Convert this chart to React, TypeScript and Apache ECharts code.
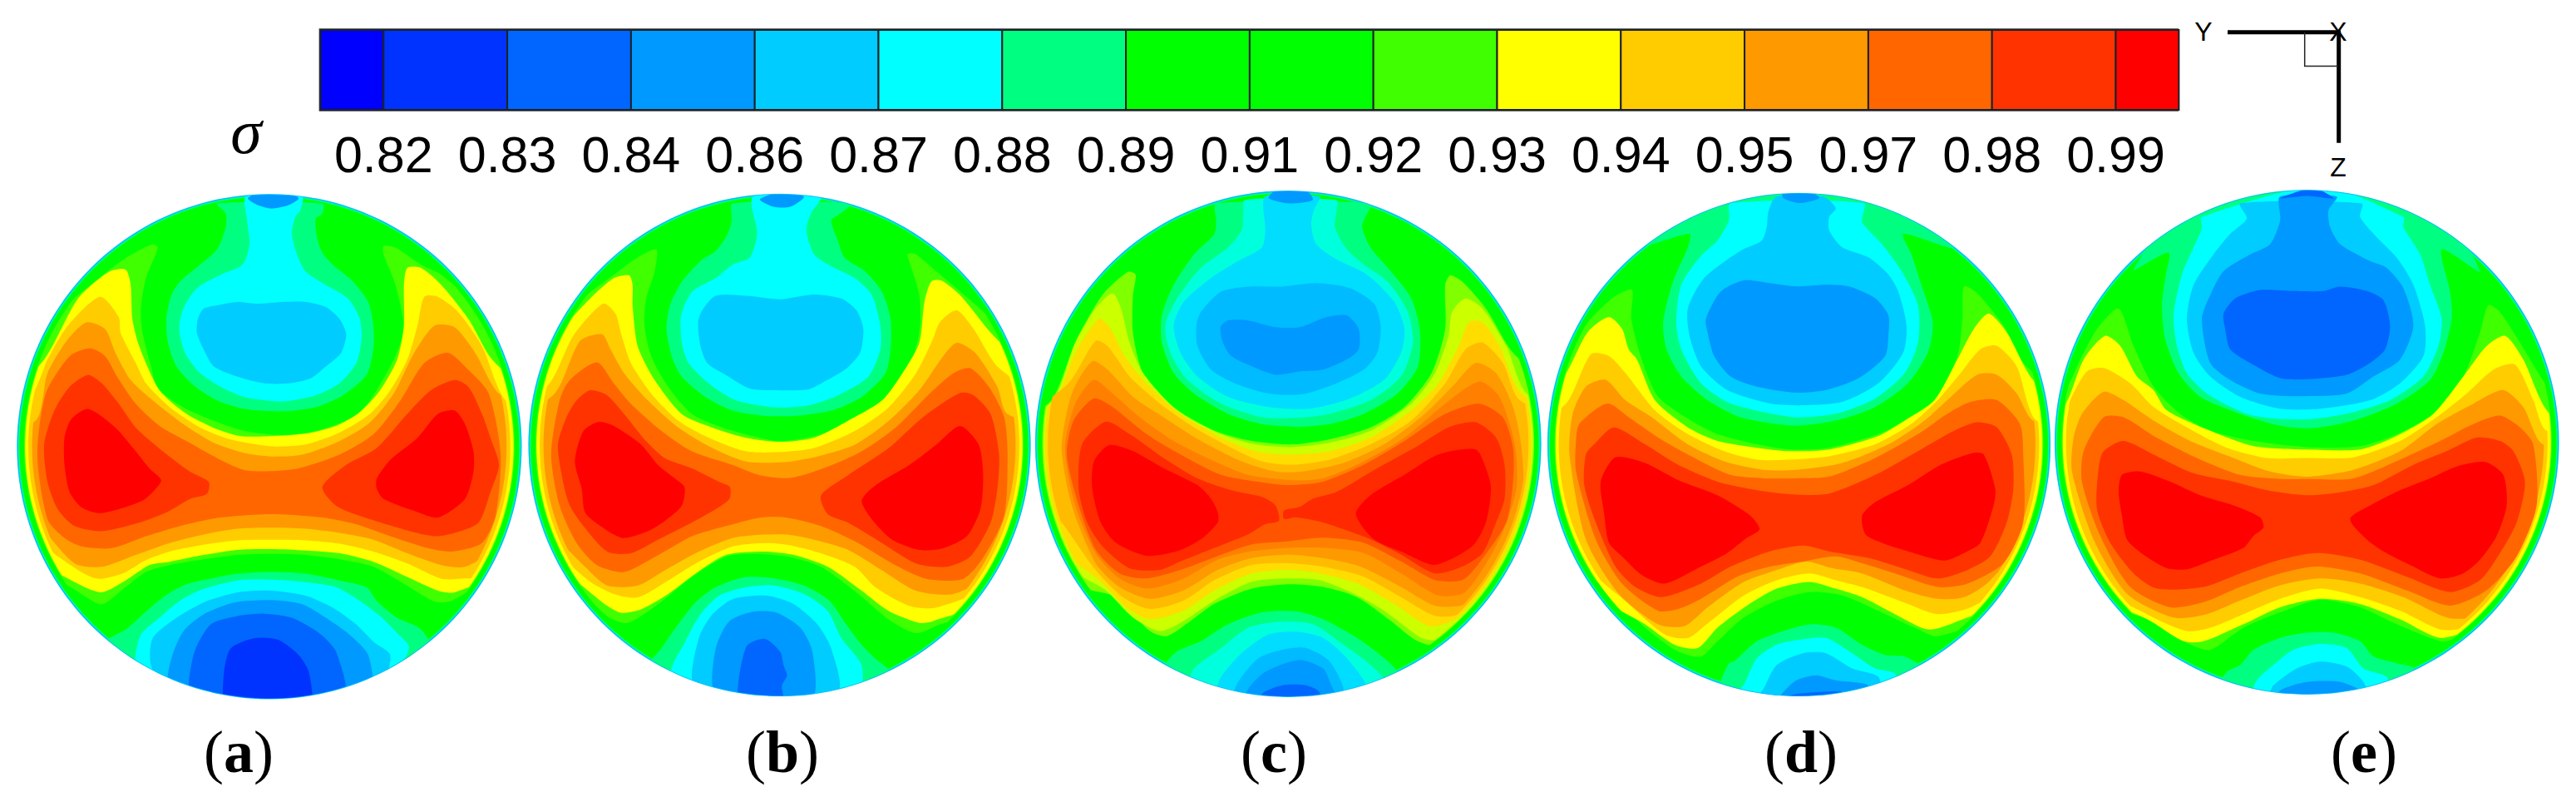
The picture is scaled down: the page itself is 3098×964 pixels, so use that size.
import React, { useEffect, useRef } from "react";
import * as echarts from "echarts";

// ---------- colour bar ----------
const tickLabels = ["0.82","0.83","0.84","0.86","0.87","0.88","0.89","0.91","0.92","0.93","0.94","0.95","0.97","0.98","0.99"];
const levelEdges = [-0.51,0,1,2,3,4,5,6,7,8,9,10,11,12,13,14,14.51];
const levelNames = ["b00","b33","b66","b99","bcc","cyan","teal","green","green","lime","yellow","gold","orange","dkorange","redorange","red"];
const panelLabels = ["a","b","c","d","e"];

const bandColors: Record<string,string> = {
  b00:"#0000ff",b33:"#0033ff",b66:"#0066ff",b99:"#0099ff",bcc:"#00ccff",cyan:"#00ffff",teal:"#00ff80",green:"#00ff00",
  lime:"#40ff00",yellow:"#ffff00",gold:"#ffcc00",orange:"#ff9900",dkorange:"#ff6600",redorange:"#ff3300",red:"#ff0000",
  aqua:"#00ffdd",ltcyan:"#00ddff",midblue:"#00bbff",lime2:"#80ff00",lemon:"#ccff00",amber:"#ffdd00",amber2:"#ffbb00",orange2:"#ff8000",dk2:"#ff5500",ro2:"#ff2a00",
};
const wallFraction: Record<string,number> = {lime:.972,lime2:.972,yellow:.968,lemon:.968,amber:.96,gold:.955,amber2:.95,orange:.94,orange2:.935};

// ---------- panel (a): contour outlines in the panel's reading frame ----------
const aTopTeal=[640,60,665,90,665,130,640,195,590,240,530,290,505,330,490,400,495,470,520,540,570,595,640,640,720,665,830,672,930,660,1010,625,1080,565,1100,490,1100,420,1085,350,1040,290,980,240,950,205,935,165,930,105,950,90,950,60];
const aTopCyan=[725,40,728,110,735,180,715,240,650,270,580,310,540,370,528,430,545,500,590,560,650,600,720,630,830,643,930,625,1000,590,1050,530,1065,460,1060,400,1025,340,960,300,900,260,875,210,860,150,870,100,885,80,890,40];
const aTopBlob=[600,370,650,358,700,350,760,355,830,350,900,350,960,365,1000,400,1020,445,1005,500,960,540,915,575,850,590,780,590,700,570,630,540,600,490,580,440,583,400];
const aTopCap=[730,45,760,65,800,75,850,65,880,45,850,30,760,30];
const aBotTeal=[300,1360,370,1315,410,1280,480,1220,540,1185,620,1165,700,1150,800,1145,900,1150,1000,1170,1080,1190,1110,1230,1170,1280,1235,1310,1270,1360,1300,1600,300,1600];
const aBotCyan=[400,1420,415,1330,470,1280,530,1230,600,1195,700,1170,800,1168,900,1175,990,1190,1060,1230,1120,1275,1170,1325,1205,1365,1180,1420,1000,1600,500,1600];
const aBotBcc=[445,1420,450,1340,520,1280,600,1235,700,1205,800,1200,900,1215,980,1250,1050,1300,1100,1350,1150,1390,1120,1480,800,1600,500,1500];
const aBotB99=[500,1480,505,1400,540,1320,600,1270,690,1235,800,1228,890,1240,960,1280,1030,1330,1085,1390,1090,1500,800,1600];
const aBotB66=[565,1520,570,1390,620,1300,700,1275,780,1268,860,1280,940,1325,990,1380,1015,1520,800,1600];
const aBotB33=[665,1540,660,1440,680,1370,750,1340,820,1345,880,1390,910,1440,915,1540,800,1600];
const aLime=[330,250,380,215,450,180,465,190,430,280,415,370,420,440,445,540,465,605,540,660,630,700,720,730,830,742,930,730,1040,690,1090,640,1160,520,1190,430,1165,300,1130,210,1130,185,1165,190,1240,240,1300,270,1420,380,1700,776,1420,1170,1330,1230,1280,1232,1190,1180,1100,1130,1000,1108,900,1095,800,1092,700,1095,600,1108,500,1125,430,1145,370,1190,300,1240,225,1200,150,1150,-100,776,160,380,230,330];
const aYellow=[320,262,370,255,385,300,390,400,410,480,470,610,550,680,640,725,710,745,800,745,900,738,990,715,1060,675,1120,610,1170,520,1190,420,1190,300,1200,250,1240,250,1300,300,1380,400,1450,520,1700,776,1450,1150,1340,1205,1290,1200,1200,1160,1100,1115,1000,1090,900,1082,800,1078,700,1080,600,1095,500,1115,440,1125,370,1170,300,1205,240,1185,120,1110,-100,776,130,520,230,340];
const aGold=[295,335,350,395,355,440,400,530,430,590,500,660,590,720,680,755,800,775,900,770,1000,735,1090,680,1150,610,1200,520,1230,420,1250,335,1290,335,1350,380,1420,480,1490,640,1700,776,1450,1150,1360,1165,1300,1165,1200,1120,1100,1085,1000,1062,900,1052,800,1050,700,1052,600,1065,500,1085,430,1110,360,1150,285,1165,215,1130,100,1040,-100,776,95,620,140,520,200,420];
const aOrange=[255,410,310,430,340,500,385,580,450,640,540,710,630,765,720,795,800,805,890,800,1000,760,1090,705,1160,620,1220,500,1280,420,1340,425,1400,500,1470,620,1700,776,1450,1080,1370,1130,1300,1125,1200,1090,1100,1050,1000,1030,900,1018,800,1015,700,1018,600,1035,500,1060,400,1095,300,1130,220,1120,110,1000,-100,776,105,700,140,560,200,460];
const aDk=[265,487,310,510,345,570,400,650,470,715,550,760,640,810,720,845,800,848,880,840,1000,800,1100,740,1180,640,1250,530,1320,500,1380,550,1440,620,1475,800,1460,980,1420,1060,1330,1085,1260,1075,1150,1040,1050,1005,950,985,800,975,650,985,550,1005,430,1040,330,1075,240,1070,190,1045,140,990,110,800,135,620,205,510];
const aRoL=[260,565,300,590,350,650,400,720,480,790,560,850,615,880,610,915,560,930,490,970,410,1000,300,1025,220,1010,170,960,140,880,130,770,160,670,205,600];
const aRoR=[950,895,1020,830,1110,780,1200,680,1270,610,1340,580,1380,600,1420,680,1445,750,1470,830,1445,910,1410,1000,1340,1030,1280,1040,1190,1020,1060,980,990,950];
const aRedL=[260,665,340,720,400,790,440,840,475,875,450,910,420,935,350,960,290,972,240,955,205,910,190,830,190,750,210,695];
const aRedR=[1110,870,1150,815,1230,750,1290,680,1340,670,1370,710,1395,790,1395,850,1370,930,1290,985,1220,965,1130,930,1110,900];
const panelA:[string,number[]][]=[["teal",aTopTeal],["cyan",aTopCyan],["bcc",aTopBlob],["b99",aTopCap],["teal",aBotTeal],["cyan",aBotCyan],["bcc",aBotBcc],["b99",aBotB99],["b66",aBotB66],["b33",aBotB33],["lime",aLime],["yellow",aYellow],["gold",aGold],["orange",aOrange],["dkorange",aDk],["redorange",aRoL],["redorange",aRoR],["red",aRedL],["red",aRedR]];

// ---------- panel (b) ----------
const bTopTeal=[640,60,637,110,625,150,590,200,550,225,490,290,455,360,445,430,460,510,490,570,560,630,640,670,730,685,830,685,930,670,1020,630,1090,560,1105,490,1105,400,1080,320,1030,260,970,220,950,170,930,110,950,95,990,60];
const bTopCyan=[700,40,712,150,690,220,640,240,590,280,520,320,488,390,490,470,510,530,570,590,650,640,760,660,860,655,950,625,1040,570,1075,490,1075,420,1050,330,1000,280,930,245,880,210,857,140,870,90,900,40];
const bTopBlob=[590,332,680,332,780,342,880,328,960,340,1005,375,1025,430,1015,500,970,550,900,590,860,608,760,610,690,605,620,565,565,530,545,480,538,410,550,375];
const bTopCap=[720,48,760,70,810,70,850,40,780,28];
const bBotTeal=[390,1430,430,1370,475,1305,530,1235,590,1190,680,1160,770,1165,850,1185,925,1230,975,1300,1020,1360,1060,1400,1100,1440,800,1600];
const bBotCyan=[460,1450,500,1350,545,1270,600,1215,680,1190,760,1185,850,1210,920,1260,960,1340,1020,1420,1010,1500,700,1600];
const bBotBcc=[525,1480,540,1340,580,1270,640,1225,740,1215,820,1240,890,1300,930,1370,950,1500,700,1600];
const bBotB99=[585,1500,590,1370,630,1290,700,1262,770,1265,840,1310,875,1380,875,1520,700,1600];
const bBotB66=[655,1520,680,1365,735,1342,780,1380,790,1420,800,1450,785,1480,790,1540,700,1600];
const bLime=[290,270,350,225,415,195,410,260,385,340,380,420,400,510,450,600,520,680,610,720,700,745,780,760,880,745,980,710,1090,640,1160,540,1190,440,1190,330,1160,230,1155,210,1175,207,1240,260,1300,310,1420,420,1700,771,1400,1250,1250,1300,1180,1325,1100,1285,1010,1210,900,1130,800,1100,700,1092,620,1100,520,1160,420,1240,330,1295,270,1275,150,1150,-100,771,130,420,210,330];
const bYellow=[290,280,335,272,345,300,345,360,360,480,410,580,490,680,580,720,680,750,780,762,880,750,980,700,1080,640,1140,560,1190,470,1205,350,1225,290,1255,287,1310,330,1400,440,1700,771,1400,1220,1230,1290,1190,1295,1100,1260,1020,1200,920,1130,820,1095,730,1085,620,1095,530,1150,450,1210,370,1255,310,1265,250,1230,140,1130,-100,771,130,440,220,340];
const bGold=[258,355,295,385,310,440,340,530,400,620,480,700,570,750,680,790,780,792,880,780,1000,730,1100,660,1180,560,1230,460,1250,410,1300,375,1350,430,1420,540,1700,771,1400,1180,1240,1250,1160,1245,1060,1190,1000,1130,900,1090,800,1065,730,1060,640,1070,540,1115,450,1170,360,1220,290,1210,215,1170,100,1060,-100,771,100,590,170,450];
const bOrange=[255,445,280,490,320,560,390,640,480,720,580,780,680,820,790,822,890,805,1000,770,1100,700,1190,610,1260,510,1300,470,1355,500,1420,600,1450,680,1700,771,1400,1150,1290,1210,1180,1200,1080,1140,980,1080,880,1050,800,1035,730,1035,640,1045,540,1085,440,1140,360,1185,270,1185,205,1130,100,1020,-100,771,115,620,190,465];
const bDk=[240,528,290,590,340,650,430,730,520,790,640,830,720,860,810,868,920,835,1020,790,1120,720,1220,620,1290,560,1340,545,1395,600,1440,690,1450,800,1440,980,1380,1100,1320,1165,1210,1165,1110,1120,1010,1060,900,1010,800,985,720,985,620,1010,520,1040,430,1090,320,1145,240,1125,180,1060,130,950,105,800,130,640,160,580];
const bRoL=[220,610,270,625,320,680,385,760,440,810,520,840,600,880,632,895,630,930,590,960,500,1010,420,1050,340,1090,270,1085,200,1010,160,950,140,880,125,770,150,690,180,640];
const bRoR=[900,920,980,860,1100,780,1200,690,1310,618,1350,625,1400,680,1425,800,1420,900,1400,1000,1340,1100,1270,1130,1180,1120,1080,1060,980,1000,920,975];
const bRedL=[245,703,290,715,370,770,420,830,470,870,498,895,490,950,440,995,390,1025,315,1045,250,1010,205,970,195,900,175,820,200,730];
const bRedR=[1020,935,1060,890,1160,830,1240,770,1310,715,1365,770,1378,860,1370,960,1330,1040,1260,1075,1190,1080,1110,1050,1050,990];
const panelB:[string,number[]][]=[["teal",bTopTeal],["cyan",bTopCyan],["bcc",bTopBlob],["b99",bTopCap],["teal",bBotTeal],["cyan",bBotCyan],["bcc",bBotBcc],["b99",bBotB99],["b66",bBotB66],["lime",bLime],["yellow",bYellow],["gold",bGold],["orange",bOrange],["dkorange",bDk],["redorange",bRoL],["redorange",bRoR],["red",bRedL],["red",bRedR]];

// ---------- panel (c) ----------
const cTopTeal=[545,60,545,110,540,150,480,210,420,300,385,390,385,470,420,560,480,620,580,680,680,710,780,718,880,710,980,680,1080,620,1140,540,1145,430,1120,340,1060,260,1000,190,975,130,985,100,1000,60];
const cTopAqua=[630,50,625,90,620,140,580,190,500,250,430,340,395,420,410,500,460,580,560,650,680,690,780,692,880,680,1000,640,1090,570,1125,470,1110,380,1050,290,980,240,930,195,895,130,900,80,900,50];
const cTopCyan=[690,40,690,140,680,190,610,230,530,280,450,350,420,420,440,500,490,570,580,630,700,660,820,665,940,635,1040,580,1090,500,1100,430,1070,350,990,270,900,225,840,180,825,120,835,75,850,40];
const cTopMid=[500,380,560,320,640,305,740,305,840,295,940,310,1010,355,1030,420,1020,500,980,550,900,590,800,622,700,620,600,590,530,550,490,480,487,420];
const cTopB99=[580,405,640,405,720,425,790,425,870,395,930,390,965,430,965,490,930,520,860,550,790,555,720,565,650,540,590,510,565,470,558,425];
const cTopCap=[700,45,760,60,830,50,810,22,720,22];
const cBotTeal=[400,1420,430,1380,500,1350,580,1300,680,1265,780,1262,860,1285,960,1340,1040,1400,1080,1450,760,1600];
const cBotAqua=[470,1470,480,1430,560,1370,640,1310,740,1292,830,1300,920,1360,1000,1420,1040,1470,760,1600];
const cBotCyan=[550,1500,560,1455,620,1385,700,1330,780,1322,860,1340,930,1400,990,1500,760,1600];
const cBotMid=[600,1510,610,1470,670,1400,740,1375,810,1370,880,1410,920,1510,760,1600];
const cBotB99=[630,1530,640,1490,690,1440,790,1405,860,1430,880,1470,900,1530,760,1600];
const cBotB66=[680,1540,680,1505,740,1480,810,1480,850,1500,850,1540];
const cLime=[285,262,308,270,300,330,300,440,330,560,420,660,540,730,650,760,770,770,880,755,1000,720,1100,660,1180,560,1220,430,1220,300,1235,272,1270,290,1340,370,1420,500,1700,770,1400,1280,1180,1360,1130,1345,1060,1290,960,1220,860,1190,760,1182,650,1195,540,1240,470,1290,400,1335,350,1320,250,1220,130,1180,-100,770,60,640,130,470,210,330];
const cLemon=[240,325,265,370,290,470,330,560,430,670,560,740,660,770,770,778,880,765,1000,730,1120,650,1190,560,1230,450,1240,380,1280,340,1330,370,1400,480,1460,620,1700,770,1400,1250,1200,1345,1150,1340,1040,1260,950,1210,850,1170,750,1165,650,1175,540,1230,450,1290,380,1320,300,1280,220,1200,110,1130,-100,770,65,640,130,470,190,370];
const cAmber=[200,400,235,430,275,510,340,590,440,680,560,750,660,790,760,800,880,790,1000,750,1120,670,1200,590,1260,480,1290,410,1330,410,1380,480,1445,620,1700,770,1400,1200,1230,1295,1170,1305,1070,1240,960,1180,850,1150,760,1140,650,1150,540,1200,450,1260,350,1285,280,1250,200,1170,100,1090,-100,770,70,640,130,500];
const cAmber2=[190,465,225,480,290,570,380,650,480,720,580,775,680,820,770,830,880,815,1000,770,1120,700,1220,590,1280,490,1330,470,1390,530,1440,640,1700,770,1400,1150,1260,1270,1190,1275,1090,1220,980,1160,860,1130,760,1120,650,1125,540,1170,450,1230,350,1255,270,1220,190,1140,90,1000,-100,770,110,590];
const cOrange=[180,525,225,550,300,630,390,690,500,760,620,820,720,850,800,850,920,825,1040,770,1160,680,1250,590,1310,530,1370,560,1420,660,1445,780,1450,950,1400,1120,1280,1240,1190,1245,1090,1190,970,1130,860,1105,760,1095,650,1105,550,1140,450,1200,350,1225,260,1190,190,1120,120,950,90,780,120,620];
const cOrange2=[185,580,240,620,320,690,420,760,540,820,640,860,760,875,860,870,980,820,1100,750,1220,650,1320,585,1380,630,1425,770,1430,900,1380,1050,1280,1205,1200,1215,1090,1150,980,1090,860,1075,760,1075,650,1085,550,1110,440,1170,340,1195,260,1165,190,1090,130,950,100,780,130,650];
const cDk=[185,635,240,660,340,740,440,800,560,860,700,885,760,890,860,880,980,830,1100,760,1220,680,1320,650,1390,690,1420,780,1420,880,1400,1000,1320,1120,1270,1170,1190,1170,1090,1115,980,1060,860,1045,760,1055,650,1065,560,1095,440,1140,340,1165,260,1150,190,1080,140,950,105,800,125,700];
const cRoL=[220,703,290,740,390,810,490,870,590,905,680,925,720,950,730,995,690,1005,640,1035,540,1075,440,1115,380,1140,290,1135,210,1070,165,1000,140,900,150,770];
const cRoR=[745,965,790,955,830,930,900,910,1020,840,1130,780,1230,720,1310,705,1370,750,1395,830,1395,930,1370,1000,1330,1090,1270,1130,1190,1150,1090,1095,1000,1050,920,1020,860,1000,780,985,745,990];
const cRedL=[230,772,300,790,390,840,490,890,530,930,550,970,550,1000,500,1050,430,1085,340,1098,250,1060,205,1000,180,900,185,820];
const cRedR=[957,975,1000,920,1100,860,1200,800,1310,785,1340,840,1355,900,1340,1000,1300,1070,1190,1125,1100,1090,1010,1050];
const panelC:[string,number[]][]=[["teal",cTopTeal],["aqua",cTopAqua],["ltcyan",cTopCyan],["midblue",cTopMid],["b99",cTopB99],["b99",cTopCap],["teal",cBotTeal],["aqua",cBotAqua],["ltcyan",cBotCyan],["midblue",cBotMid],["b99",cBotB99],["b66",cBotB66],["lime2",cLime],["lemon",cLemon],["amber",cAmber],["amber2",cAmber2],["orange",cOrange],["orange2",cOrange2],["dk2",cDk],["ro2",cRoL],["ro2",cRoR],["red",cRedL],["red",cRedR]];

// ---------- panel (d) ----------
const dTopTeal=[290,185,435,150,430,190,385,290,355,410,365,490,410,570,490,640,590,690,750,715,880,700,1000,660,1100,590,1160,500,1175,410,1140,300,1110,210,1085,150,1240,190,1100,20,450,20];
const dTopCyan=[560,60,555,110,520,170,470,215,410,300,395,410,410,490,470,590,560,650,750,690,880,680,1000,635,1090,560,1130,470,1130,360,1080,260,1020,180,960,115,965,60];
const dTopBcc=[700,40,675,85,670,130,655,170,590,200,480,280,430,370,435,450,470,540,550,610,680,650,770,655,900,645,1010,590,1085,500,1095,420,1070,320,1040,270,980,220,900,190,860,140,860,100,880,75,840,40];
const dTopB99=[600,287,680,295,760,305,850,300,920,305,1000,340,1040,390,1040,450,1030,510,950,575,850,610,760,618,640,600,560,570,510,510,490,440,485,400,530,320];
const dTopCap=[720,45,770,60,830,45,800,25,720,25];
const dBotTeal=[530,1480,555,1415,570,1410,640,1350,720,1320,800,1300,880,1310,960,1360,1030,1390,1090,1395,1140,1430,1000,1600,600,1600];
const dBotCyan=[590,1500,605,1470,640,1400,700,1360,770,1345,850,1340,930,1385,1000,1430,1060,1445,1070,1500,800,1600];
const dBotBcc=[640,1520,660,1490,700,1420,780,1385,850,1385,930,1430,1010,1455,1010,1520,800,1600];
const dBotB99=[700,1530,720,1500,760,1465,820,1450,880,1465,980,1480,980,1530,800,1600];
const dBotB66=[740,1530,740,1510,820,1500,900,1500,900,1530];
const dLime=[200,340,260,315,258,400,290,520,340,630,440,700,520,740,640,770,740,785,860,780,1010,740,1090,700,1180,640,1250,510,1265,400,1270,305,1310,325,1390,420,1450,530,1700,771,1400,1250,1190,1335,1120,1310,1020,1265,900,1215,800,1205,700,1230,600,1280,520,1350,470,1395,400,1380,300,1310,200,1210,90,1120,-100,771,45,560,110,430];
const dYellow=[190,395,230,430,250,490,275,520,330,640,430,720,520,760,640,780,735,790,860,785,1010,745,1090,700,1180,640,1250,520,1300,430,1345,385,1400,440,1480,580,1700,771,1400,1220,1240,1295,1160,1315,1060,1270,960,1220,880,1195,800,1175,700,1195,610,1245,520,1310,460,1370,390,1360,300,1300,170,1220,-100,771,60,560,125,440];
const dGold=[135,505,190,510,240,560,330,670,430,740,540,790,640,815,740,815,860,805,1000,770,1110,710,1190,640,1260,560,1320,490,1370,480,1430,540,1490,700,1700,771,1400,1180,1290,1250,1190,1270,1100,1240,960,1190,880,1170,800,1150,700,1170,600,1215,500,1290,430,1340,360,1330,250,1240,90,1100,-100,771,60,650];
const dOrange=[120,600,180,580,240,640,320,690,430,770,540,820,660,845,760,845,900,825,1040,770,1150,700,1230,630,1310,565,1370,565,1430,620,1480,700,1700,771,1350,1170,1270,1220,1190,1225,1090,1200,960,1150,870,1135,790,1115,700,1140,600,1175,490,1250,420,1305,340,1300,220,1210,120,1050,70,800,80,680];
const dDk=[100,710,185,650,250,690,340,750,450,810,560,860,660,870,760,870,860,865,1000,810,1130,740,1220,680,1290,645,1370,640,1440,710,1450,800,1450,1000,1390,1120,1280,1180,1190,1190,1060,1150,960,1120,880,1100,780,1115,680,1130,580,1160,470,1225,400,1255,340,1260,230,1180,150,1050,90,850,90,760];
const dRo=[145,770,205,720,300,770,400,830,520,880,640,905,760,918,860,915,1000,860,1130,790,1240,730,1310,705,1370,720,1415,800,1420,900,1400,1000,1350,1100,1280,1140,1190,1165,1100,1140,980,1105,860,1085,780,1068,680,1085,560,1130,470,1180,350,1220,270,1190,210,1130,150,1000,115,890,120,800];
const dRedL=[210,808,300,825,400,875,520,920,620,980,648,1020,610,1045,550,1090,470,1130,360,1180,290,1155,230,1100,190,1060,175,970,165,880];
const dRedR=[960,980,1000,940,1100,890,1200,830,1300,795,1330,800,1365,900,1360,950,1320,1060,1280,1085,1210,1112,1100,1085,1020,1060,970,1035];
const panelD:[string,number[]][]=[["teal",dTopTeal],["cyan",dTopCyan],["bcc",dTopBcc],["b99",dTopB99],["b99",dTopCap],["teal",dBotTeal],["cyan",dBotCyan],["bcc",dBotBcc],["b99",dBotB99],["b66",dBotB66],["lime",dLime],["yellow",dYellow],["gold",dGold],["orange",dOrange],["dkorange",dDk],["redorange",dRo],["red",dRedL],["red",dRedR]];

// ---------- panel (e) ----------
const eTopTeal=[240,255,345,205,335,280,325,360,335,460,375,560,440,630,560,680,680,715,780,722,900,700,1030,650,1130,580,1170,500,1195,400,1190,320,1165,195,1280,260,1100,10,450,10];
const eTopCyan=[445,100,445,135,420,190,385,270,360,390,370,480,400,560,460,620,580,680,680,695,780,695,900,675,1010,640,1110,570,1155,480,1165,400,1130,300,1100,210,1050,130,1050,100,800,10];
const eTopBcc=[560,60,580,105,530,150,480,210,420,300,400,400,420,500,470,570,560,630,680,665,800,665,950,640,1040,590,1110,510,1115,420,1080,300,1030,220,970,160,920,100,925,60];
const eTopB99=[680,40,680,110,650,180,590,210,510,260,470,330,445,400,470,530,530,580,620,620,740,628,880,620,960,570,1040,520,1080,420,1050,310,1000,250,950,230,860,180,830,130,825,80,850,40];
const eTopB66=[510,385,545,340,620,315,720,318,810,318,860,305,940,318,990,345,1010,420,995,490,950,530,880,565,760,578,680,575,590,530,530,490,515,430];
const eTopCap=[680,45,760,38,840,45,780,15];
const eBotTeal=[500,1480,520,1440,560,1420,600,1375,680,1340,760,1325,840,1325,920,1350,960,1395,1030,1415,1080,1430,1040,1500,760,1600];
const eBotCyan=[600,1500,610,1465,660,1420,720,1375,800,1358,880,1370,930,1430,1000,1455,1000,1500,760,1600];
const eBotBcc=[650,1510,660,1480,730,1430,800,1410,880,1425,930,1470,940,1510,760,1600];
const eBotB99=[670,1530,680,1495,760,1470,860,1470,920,1495,930,1530];
const eLime=[130,430,195,370,240,480,300,600,380,680,470,730,600,760,760,778,920,775,1030,740,1140,680,1230,570,1280,440,1305,360,1340,380,1400,470,1500,620,1700,763,1400,1260,1180,1350,1130,1340,1030,1300,920,1250,800,1228,680,1265,570,1310,470,1375,400,1355,300,1290,140,1230,-100,763,30,620,80,520];
const eYellow=[90,520,155,450,200,480,250,570,300,610,340,670,470,730,600,775,760,785,920,785,1030,745,1140,680,1230,570,1300,480,1355,450,1410,520,1490,680,1700,763,1400,1240,1170,1340,1040,1285,920,1240,800,1225,680,1250,570,1300,450,1350,390,1350,290,1290,140,1210,-100,763,30,660];
const eGold=[100,555,150,545,230,590,300,660,400,720,520,780,640,810,760,810,900,808,1040,760,1150,690,1240,620,1320,550,1385,535,1440,640,1480,730,1700,763,1400,1200,1230,1310,1160,1315,1040,1260,920,1220,800,1195,680,1225,570,1270,470,1310,400,1320,280,1270,130,1180,-100,763,35,700,50,640];
const eOrange=[85,680,150,615,210,640,300,700,410,760,540,810,650,850,760,865,900,845,1040,790,1150,710,1260,650,1350,610,1410,660,1470,770,1700,763,1350,1220,1250,1280,1180,1280,1050,1220,920,1180,800,1165,680,1185,560,1230,460,1270,360,1280,220,1210,120,1050,55,850,60,750];
const eDk=[90,790,150,690,210,690,300,745,430,810,560,860,680,872,760,872,900,870,1040,815,1160,760,1260,710,1340,685,1400,720,1440,770,1450,950,1390,1100,1300,1200,1190,1245,1060,1200,920,1150,790,1130,680,1150,560,1190,450,1235,350,1250,230,1190,140,1040,85,880];
const eRo=[135,840,150,790,210,760,300,800,420,855,540,880,640,905,760,920,870,910,960,890,1080,830,1180,790,1270,750,1340,760,1380,790,1415,880,1390,1000,1340,1090,1280,1170,1190,1205,1060,1160,920,1110,790,1090,680,1110,560,1150,450,1190,310,1195,240,1150,170,1060,130,960];
const eRedL=[205,860,260,850,350,880,440,920,540,950,620,985,630,1015,600,1040,570,1075,480,1110,400,1138,340,1135,270,1095,220,1050,205,980,195,910];
const eRedR=[890,990,950,950,1040,905,1130,870,1210,835,1295,822,1350,860,1360,950,1330,1040,1280,1110,1230,1150,1160,1165,1080,1130,990,1085,940,1050];
const panelE:[string,number[]][]=[["teal",eTopTeal],["cyan",eTopCyan],["bcc",eTopBcc],["b99",eTopB99],["b66",eTopB66],["b66",eTopCap],["teal",eBotTeal],["cyan",eBotCyan],["bcc",eBotBcc],["b99",eBotB99],["lime",eLime],["yellow",eYellow],["gold",eGold],["orange",eOrange],["dkorange",eDk],["redorange",eRo],["red",eRedL],["red",eRedR]];

const panelRegions=[panelA,panelB,panelC,panelD,panelE];
// reading-frame extents of each disc: x0,x1,y0,y1
const panelExtents=[[50,1537,35,1517],[38,1518,33,1510],[12,1503,27,1510],[3,1533,30,1512],[3,1517,22,1505]];
// on-page box of each disc: left,top,width,height
const panelBoxes=[[20.4,234.3,607,605],[635.5,233.5,604,603],[1245,231,608.5,605],[1861,232,605,605],[2471,229,606.5,605]];
const panelLabelX=[287,941,1532,2166,2843];
const rimBands:[string,number][]=[["bcc",1],["teal",.995],["green",.99]];

function panelSeries(idx:number){
  const ext=panelExtents[idx];
  const regions=panelRegions[idx];
  const cx=(ext[0]+ext[1])/2, cy=(ext[2]+ext[3])/2;
  const rim=rimBands.length;
  const n=regions.length+rim+1;
  return {
    type:"custom",xAxisIndex:idx+1,yAxisIndex:idx+1,silent:true,clip:false,
    data:Array.from({length:n},(_,i)=>[i]),
    encode:{x:[],y:[]},
    renderItem:(params:any,api:any)=>{
      const i=params.dataIndex;
      const c=api.coord([cx,cy]);
      const R=api.coord([ext[1],cy])[0]-c[0];
      if(i<rim){
        const [band,f]=rimBands[i];
        return {type:"circle",shape:{cx:c[0],cy:c[1],r:R*f},style:{fill:bandColors[band]},silent:true};
      }
      if(i===n-1){
        return {type:"circle",shape:{cx:c[0],cy:c[1],r:R-0.5},style:{fill:"none",stroke:"rgba(0,170,255,0.4)",lineWidth:1.2},silent:true};
      }
      const [band,pts]=regions[i-rim];
      const points:number[][]=[];
      for(let k=0;k<pts.length;k+=2)points.push(api.coord([pts[k],pts[k+1]]));
      return {type:"polygon",shape:{points,smooth:0.25},style:{fill:bandColors[band]},silent:true,
        clipPath:{type:"circle",shape:{cx:c[0],cy:c[1],r:R*(wallFraction[band]||0.998)}}};
    },
  };
}

export default function App(){
  const ref=useRef<HTMLDivElement>(null);
  useEffect(()=>{
    document.body.style.margin="0";
    const chart=echarts.init(ref.current!,undefined,{renderer:"svg"});
    const grids:any[]=[{left:312.5,top:36,width:2529.6,height:96}];
    const xAxes:any[]=[{gridIndex:0,type:"value",min:-1,max:16,interval:1,splitLine:{show:false},axisLine:{show:false},axisTick:{show:false},
      axisLabel:{show:true,margin:23,fontSize:61,fontFamily:"Liberation Sans",color:"#000",hideOverlap:false,
        formatter:(v:number)=>tickLabels[v]??""}}];
    const yAxes:any[]=[{gridIndex:0,type:"value",min:0,max:1,show:false}];
    panelBoxes.forEach((b,i)=>{
      const e=panelExtents[i];
      grids.push({left:b[0],top:b[1],width:b[2],height:b[3]});
      xAxes.push({gridIndex:i+1,type:"value",min:e[0],max:e[1],show:false});
      yAxes.push({gridIndex:i+1,type:"value",min:e[2],max:e[3],inverse:true,show:false});
    });
    const legendSeries={
      type:"custom",xAxisIndex:0,yAxisIndex:0,silent:true,clip:false,
      data:levelNames.map((_,i)=>[levelEdges[i],levelEdges[i+1],i]),
      encode:{x:[0,1],y:[]},
      renderItem:(_:any,api:any)=>{
        const a=api.coord([api.value(0),1]);
        const b=api.coord([api.value(1),0]);
        return {type:"rect",shape:{x:a[0],y:a[1],width:b[0]-a[0],height:b[1]-a[1]},
          style:{fill:bandColors[levelNames[api.value(2)]],stroke:"#1c2228",lineWidth:2},silent:true};
      },
    };
    chart.setOption({
      animation:false,backgroundColor:"#fff",
      grid:grids,xAxis:xAxes,yAxis:yAxes,
      series:[legendSeries,...panelRegions.map((_,i)=>panelSeries(i))],
      graphic:[
        {type:"rect",silent:true,shape:{x:385.4,y:36,width:2233,height:96},style:{fill:"none",stroke:"#3a3a3a",lineWidth:3.5}},
        {type:"text",silent:true,x:296,y:158,style:{text:"σ",fontFamily:"Liberation Serif",fontStyle:"italic",fontSize:76,fill:"#000",align:"center",verticalAlign:"middle"}},
        {type:"line",silent:true,shape:{x1:2679,y1:38.7,x2:2815,y2:38.7},style:{stroke:"#000",lineWidth:5}},
        {type:"line",silent:true,shape:{x1:2812.7,y1:38,x2:2812.7,y2:171.7},style:{stroke:"#000",lineWidth:5}},
        {type:"polyline",silent:true,shape:{points:[[2771.7,38.7],[2771.7,79.5],[2812,79.5]]},style:{fill:"none",stroke:"#222",lineWidth:1.5}},
        {type:"text",silent:true,x:2650,y:38,style:{text:"Y",fontFamily:"Liberation Sans",fontSize:32,fill:"#000",align:"center",verticalAlign:"middle"}},
        {type:"text",silent:true,x:2812,y:38,style:{text:"X",fontFamily:"Liberation Sans",fontSize:32,fill:"#000",align:"center",verticalAlign:"middle"}},
        {type:"text",silent:true,x:2812,y:201,style:{text:"Z",fontFamily:"Liberation Sans",fontSize:32,fill:"#000",align:"center",verticalAlign:"middle"}},
        ...panelLabels.map((l,i)=>({type:"text",silent:true,x:panelLabelX[i],y:904,style:{
          text:`{p|(}{b|${l}}{p|)}`,align:"center",verticalAlign:"middle",
          rich:{p:{fontFamily:"Liberation Serif",fontSize:72,fill:"#000"},b:{fontFamily:"Liberation Serif",fontWeight:"bold",fontSize:72,fill:"#000"}},
        }})),
      ],
    });
    return ()=>chart.dispose();
  },[]);
  return <div ref={ref} style={{width:3098,height:964}}/>;
}
